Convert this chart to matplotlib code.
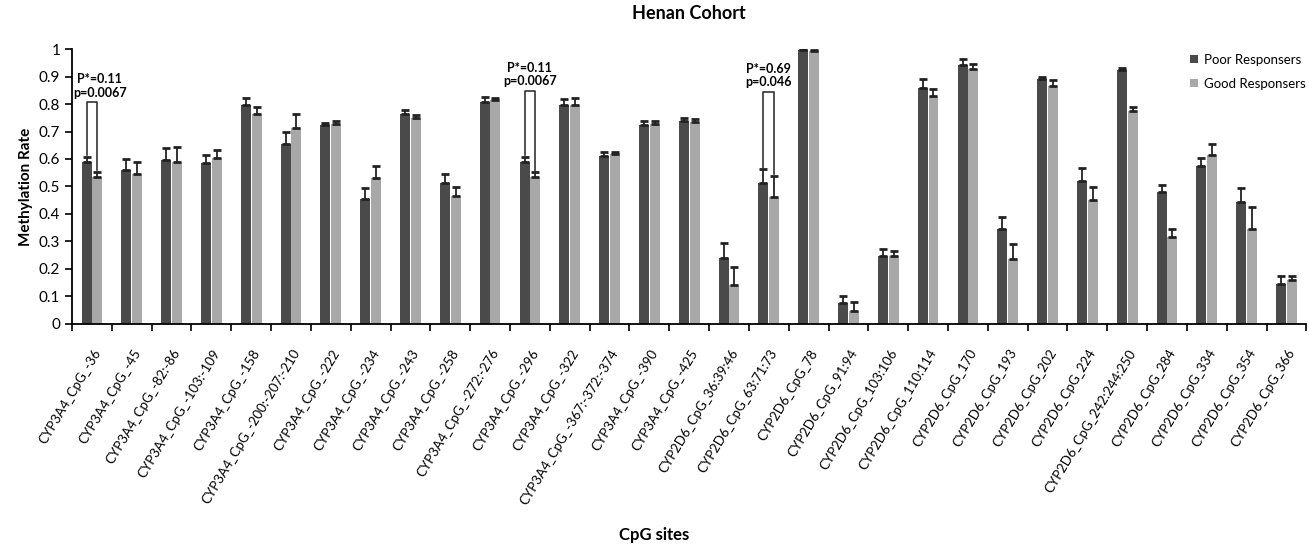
import matplotlib.pyplot as plt
import numpy as np

plt.rcParams['font.family'] = ['Lato', 'DejaVu Sans']

sites = ['CYP3A4_CpG_-36', 'CYP3A4_CpG_-45', 'CYP3A4_CpG_-82:-86', 'CYP3A4_CpG_-103:-109',
         'CYP3A4_CpG_-158', 'CYP3A4_CpG_-200:-207:-210', 'CYP3A4_CpG_-222', 'CYP3A4_CpG_-234',
         'CYP3A4_CpG_-243', 'CYP3A4_CpG_-258', 'CYP3A4_CpG_-272:-276', 'CYP3A4_CpG_-296',
         'CYP3A4_CpG_-322', 'CYP3A4_CpG_-367:-372:-374', 'CYP3A4_CpG_-390', 'CYP3A4_CpG_-425',
         'CYP2D6_CpG_36:39:46', 'CYP2D6_CpG_63:71:73', 'CYP2D6_CpG_78', 'CYP2D6_CpG_91:94',
         'CYP2D6_CpG_103:106', 'CYP2D6_CpG_110:114', 'CYP2D6_CpG_170', 'CYP2D6_CpG_193',
         'CYP2D6_CpG_202', 'CYP2D6_CpG_224', 'CYP2D6_CpG_242:244:250', 'CYP2D6_CpG_284',
         'CYP2D6_CpG_334', 'CYP2D6_CpG_354', 'CYP2D6_CpG_366']

poor = [0.588, 0.560, 0.598, 0.585, 0.795, 0.656, 0.724, 0.454, 0.764, 0.514,
        0.806, 0.589, 0.795, 0.610, 0.725, 0.740, 0.241, 0.511, 0.998, 0.075,
        0.246, 0.859, 0.944, 0.345, 0.890, 0.521, 0.925, 0.479, 0.575, 0.445, 0.145]
poor_err = [0.021, 0.040, 0.041, 0.029, 0.028, 0.041, 0.008, 0.039, 0.014, 0.031,
            0.018, 0.020, 0.023, 0.014, 0.014, 0.008, 0.052, 0.051, 0.002, 0.025,
            0.025, 0.031, 0.020, 0.044, 0.010, 0.048, 0.008, 0.026, 0.029, 0.048, 0.029]
good = [0.535, 0.546, 0.589, 0.605, 0.765, 0.712, 0.728, 0.530, 0.748, 0.465,
        0.815, 0.534, 0.795, 0.617, 0.728, 0.735, 0.140, 0.460, 0.994, 0.048,
        0.246, 0.830, 0.926, 0.236, 0.866, 0.452, 0.775, 0.316, 0.615, 0.345, 0.161]
good_err = [0.019, 0.042, 0.056, 0.028, 0.023, 0.051, 0.012, 0.045, 0.011, 0.034,
            0.008, 0.019, 0.028, 0.010, 0.011, 0.009, 0.067, 0.079, 0.002, 0.032,
            0.019, 0.024, 0.020, 0.053, 0.021, 0.047, 0.013, 0.028, 0.039, 0.079, 0.013]

# brackets: (group index, bracket top, P* text, p text)
brackets = [(0, 0.806, 'P*=0.11', 'p=0.0067'),
            (11, 0.848, 'P*=0.11', 'p=0.0067'),
            (17, 0.844, 'P*=0.69', 'p=0.046')]

fig = plt.figure(figsize=(13.09, 5.46), dpi=100)
ax = fig.add_axes([0.055, 0.407, 0.943, 0.503])

x = np.arange(len(sites))
w = 0.25
ax.bar(x - w / 2 - 0.01, poor, w, color='#4a4a4a', label='Poor Responsers', zorder=2)
ax.bar(x + w / 2 + 0.01, good, w, color='#a8a8a8', label='Good Responsers', zorder=2)
ax.errorbar(x - w / 2 - 0.01, poor, yerr=[np.zeros(len(poor)), poor_err], fmt='none',
            ecolor='#222222', elinewidth=1.3, capsize=3, capthick=2, zorder=3)
ax.errorbar(x + w / 2 + 0.01, good, yerr=[np.zeros(len(good)), good_err], fmt='none',
            ecolor='#222222', elinewidth=1.3, capsize=3, capthick=2, zorder=3)

for i, top, t1, t2 in brackets:
    x0, x1 = i - w / 2 - 0.01, i + w / 2 + 0.01
    ax.plot([x0, x0, x1, x1], [poor[i] + poor_err[i] + 0.005, top, top, good[i] + good_err[i] + 0.005],
            color='#333333', lw=1.2, zorder=4)
    tx = i + 0.2 if i == 0 else i
    ax.text(tx, top + 0.085, t1, ha='center', va='center', fontsize=9, fontweight='bold')
    ax.text(tx, top + 0.035, t2, ha='center', va='center', fontsize=9, fontweight='bold')

ax.set_xlim(-0.5, len(sites) - 0.5)
ax.set_ylim(0, 1)
ax.set_yticks(np.arange(0, 1.01, 0.1))
ax.set_yticklabels(['0', '0.1', '0.2', '0.3', '0.4', '0.5', '0.6', '0.7', '0.8', '0.9', '1'],
                   fontsize=11)
ax.set_xticks(np.arange(-0.5, len(sites), 1))
ax.set_xticklabels([])
ax.tick_params(axis='x', length=5, width=1.2)
ax.tick_params(axis='y', length=5, width=1.2)
for i, s in enumerate(sites):
    ax.text(i + 0.02, -0.085, s, rotation=59, ha='right', va='top', fontsize=9.5,
            rotation_mode='anchor', transform=ax.transData)

ax.spines['top'].set_visible(False)
ax.spines['right'].set_visible(False)
ax.spines['left'].set_linewidth(1.3)
ax.spines['bottom'].set_linewidth(1.3)

ax.set_ylabel('Methylation Rate', fontsize=11, fontweight='bold')
ax.set_title('Henan Cohort', fontsize=13, fontweight='bold', pad=22)
fig.text(0.5, 0.02, 'CpG sites', ha='center', va='center', fontsize=12, fontweight='bold')

ax.legend(loc='upper left', bbox_to_anchor=(1178 / 1309, 1 - 42 / 546),
          bbox_transform=fig.transFigure, frameon=False, fontsize=9.5,
          handlelength=0.6, handleheight=0.6, handletextpad=0.5, labelspacing=0.9)

fig.savefig('out.png', dpi=100)
